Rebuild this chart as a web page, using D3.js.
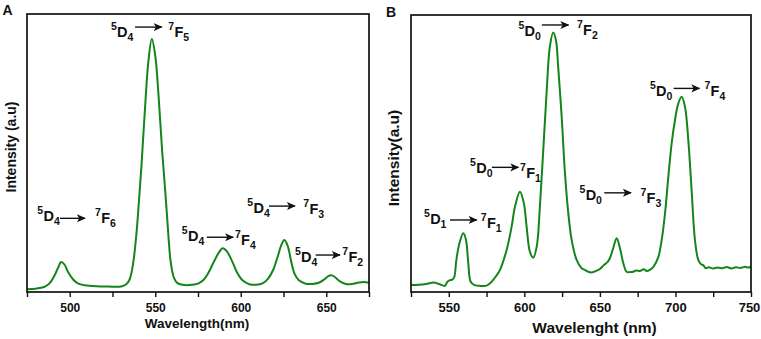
<!DOCTYPE html>
<html><head><meta charset="utf-8">
<script src="https://cdn.jsdelivr.net/npm/d3@7"></script>
<style>
body{margin:0;background:#fff}
svg{display:block}
text{font-family:Arial,"Liberation Sans",sans-serif;font-weight:bold;fill:#111}
</style>
</head><body>
<svg id="c" width="761" height="339"></svg>
<script>
// ---------- Panel A data (Tb3+ emission) ----------
const waveA = [475,480,485,488,491,493,495,497,499,502,505,510,520,530,533,535,537,539,540.5,542,544,546,548,550,552,554,556,557.5,559,561,563,566,570,575,578,581,584,587,589.5,592,595,598,601,605,609,613,616,619,621.5,623.5,625.5,627.5,629.5,631.5,634,638,642,646,649,651,653,655,658,661.5,665,669,672,675];
const intA  = [1.0,1.2,1.8,3.0,5.8,8.5,10.8,9.8,7.2,4.5,3.0,2.3,2.0,2.0,2.8,4.5,10,21,33,46,66,83,91,85,70,51,35,22,11,5,3.2,2.6,2.5,3.0,4.2,6.8,10.5,14,15.7,14.5,11,6.8,4.2,2.8,2.6,3.2,4.8,8,12.5,16.5,18.7,16.5,11,6.5,4.2,3.0,2.9,3.4,4.6,5.6,6.0,5.4,3.8,2.9,2.9,3.4,3.6,3.3];

// ---------- Panel B data (Eu3+ emission) ----------
const waveB = [525,530,535,540,543,546,547.5,549,550.5,552,553.5,555,557,559.6,561.4,562.9,564.5,567,571,575,578,581,583.8,588.3,591.6,593.8,597.1,599.7,601.5,603.7,605.9,608.2,610.3,612.5,614.7,616.9,619.1,620.9,622.4,624.7,626.9,629.1,631.3,634.6,637.9,640,642.3,645,647.8,650,652.6,655,656.6,658.8,661.1,663.3,665.5,667.7,670,672.1,674,676.5,679,681,683,685.4,688.7,690.9,693.1,695.3,697.5,699.7,701.9,704.1,706.3,708.5,710.7,712.9,715.1,717,718.4,720,722,725,728,731,734,737,740,743,746,748,750];
const intB  = [2.5,2.6,2.9,3.4,3.0,2.4,2.2,3.6,4.2,4.4,5.2,11.5,17.5,21.2,18.8,10.4,3.7,2.5,2.2,2.3,3.5,5.5,7.9,15.2,23.6,30.8,36.2,32,23.6,14.5,12.4,16.4,30.8,51,71.7,88.6,93.7,91,81.3,63.3,42.8,28.4,18.8,11.6,8.6,8.0,7.3,7.1,7.7,8.3,9.7,10.8,12.2,15.8,19.4,15.8,10.4,7.3,7.2,7.3,7.8,7.6,8.2,7.6,8.0,9.1,12.7,18.8,28.4,41.6,53.7,62.1,68.1,70.5,66.9,54.9,36.8,18.8,11.6,10.0,9.7,8.6,8.9,8.5,8.8,8.6,9.0,8.5,8.9,8.7,9.1,8.8,9.1];

// ---------- Axis ticks ----------
const ticksA  = [475,500,525,550,575,600,625,650,675];
const labelsA = [500,550,600,650];
const ticksB  = [525,550,575,600,625,650,675,700,725,750];
const labelsB = [550,600,650,700,750];

// ---------- Transition labels (anchored in data units) ----------
const transA = [
  {l:["5","D","4"], r:["7","F","6"], lw:481.0, lv:25.5, a1:494.3, a2:508.9, av:26.5, rw:514.8, rv:24.9},
  {l:["5","D","4"], r:["7","F","5"], lw:524.1, lv:91.8, a1:538.2, a2:553.8, av:95.3, rw:557.6, rv:91.6},
  {l:["5","D","4"], r:["7","F","4"], lw:565.5, lv:18.3, a1:580.1, a2:595.6, av:19.7, rw:596.6, rv:17.0},
  {l:["5","D","4"], r:["7","F","3"], lw:603.8, lv:28.4, a1:616.5, a2:631.7, av:30.9, rw:636.6, rv:28.1},
  {l:["5","D","4"], r:["7","F","2"], lw:631.7, lv:10.9, a1:643.8, a2:658.0, av:13.3, rw:659.4, rv:10.9}
];
const transB = [
  {l:["5","D","1"], r:["7","F","1"], lw:533.6, lv:24.5, a1:550.8, a2:568.5, av:26.0, rw:571.2, rv:23.0},
  {l:["5","D","0"], r:["7","F","1"], lw:564.1, lv:42.9, a1:578.5, a2:596.1, av:45.0, rw:597.2, rv:41.0},
  {l:["5","D","0"], r:["7","F","3"], lw:636.5, lv:33.2, a1:652.9, a2:670.6, av:35.8, rw:676.8, rv:32.0},
  {l:["5","D","0"], r:["7","F","2"], lw:596.1, lv:92.3, a1:611.6, a2:629.2, av:96.4, rw:634.8, rv:92.8},
  {l:["5","D","0"], r:["7","F","4"], lw:683.1, lv:70.9, a1:698.8, a2:715.9, av:73.5, rw:719.2, rv:70.6}
];

const svg = d3.select("#c");
const GREEN = "#13851a";

svg.append("defs").append("marker")
  .attr("id","arr").attr("viewBox","0 0 10 10").attr("refX",9).attr("refY",5)
  .attr("markerWidth",9).attr("markerHeight",9).attr("markerUnits","userSpaceOnUse")
  .attr("orient","auto")
  .append("path").attr("d","M0,0.5 L10,5 L0,9.5 L2.5,5 Z").attr("fill","#111");

function term(g, x, y, parts){
  const sup = g.append("text").attr("x",x).attr("y",y-7).attr("font-size",10.5).text(parts[0]);
  const sw = sup.node().getComputedTextLength();
  const main = g.append("text").attr("x",x+sw+0.3).attr("y",y).attr("font-size",14.5).text(parts[1]);
  const mw = main.node().getComputedTextLength();
  g.append("text").attr("x",x+sw+mw+0.3).attr("y",y+4).attr("font-size",10.5).text(parts[2]);
}

function panel(o){
  const x = d3.scaleLinear().domain(o.xdom).range(o.xr);
  const y = d3.scaleLinear().domain([0,100]).range(o.yr);
  const g = svg.append("g");

  const ax = g.append("g").attr("transform",`translate(0,${o.yr[0]})`)
    .call(d3.axisBottom(x).tickValues(o.ticks).tickSize(5).tickPadding(o.pad)
      .tickFormat(d => o.labels.includes(d) ? d : ""));
  ax.select(".domain").remove();
  ax.selectAll(".tick line").attr("stroke","#111").attr("stroke-width",1.4);
  ax.selectAll(".tick text").attr("font-size",o.tickFont).attr("fill","#111")
    .style("font-family","Arial, 'Liberation Sans', sans-serif").style("font-weight","bold")
    .attr("dx", d => (d === o.xdom[1] && o.lastShift) ? o.lastShift : 0);

  const line = d3.line().x((d,i)=>x(o.wave[i])).y(d=>y(d)).curve(d3.curveCatmullRom.alpha(0.5));
  g.append("path").datum(o.vals).attr("d",line).attr("fill","none")
    .attr("stroke",GREEN).attr("stroke-width",2).attr("stroke-linejoin","round");

  g.append("rect").attr("x",o.xr[0]).attr("y",o.yr[1])
    .attr("width",o.xr[1]-o.xr[0]).attr("height",o.yr[0]-o.yr[1])
    .attr("fill","none").attr("stroke","#111").attr("stroke-width",1.7);

  o.trans.forEach(t=>{
    term(g, x(t.lw), y(t.lv), t.l);
    g.append("line").attr("x1",x(t.a1)).attr("x2",x(t.a2)).attr("y1",y(t.av)).attr("y2",y(t.av))
      .attr("stroke","#111").attr("stroke-width",1.4).attr("marker-end","url(#arr)");
    term(g, x(t.rw), y(t.rv), t.r);
  });

  g.append("text").attr("transform",`translate(${o.ylx},${o.yly}) rotate(-90)`)
    .attr("text-anchor","middle").attr("font-size",o.yFont).text(o.ylab);
  g.append("text").attr("x",o.xlx).attr("y",o.xly).attr("text-anchor","middle")
    .attr("font-size",o.xFont).text(o.xlab);
  g.append("text").attr("x",o.px).attr("y",o.py).attr("font-size",14).text(o.letter);
}

panel({xdom:[475,675], xr:[27,369], yr:[292,14], ticks:ticksA, labels:labelsA, pad:6, tickFont:12,
  wave:waveA, vals:intA, trans:transA,
  ylab:"Intensity (a.u)", ylx:15.5, yly:147, yFont:14,
  xlab:"Wavelength(nm)", xlx:197, xly:328, xFont:13.5,
  letter:"A", px:2.5, py:15});

panel({xdom:[525,750], xr:[411,751], yr:[292,15], ticks:ticksB, labels:labelsB, pad:6, tickFont:13,
  wave:waveB, vals:intB, trans:transB, lastShift:-2,
  ylab:"Intensity(a.u)", ylx:399, yly:158, yFont:15.5,
  xlab:"Wavelenght (nm)", xlx:594.5, xly:333, xFont:15.5,
  letter:"B", px:386, py:16.5});
</script>
</body></html>
